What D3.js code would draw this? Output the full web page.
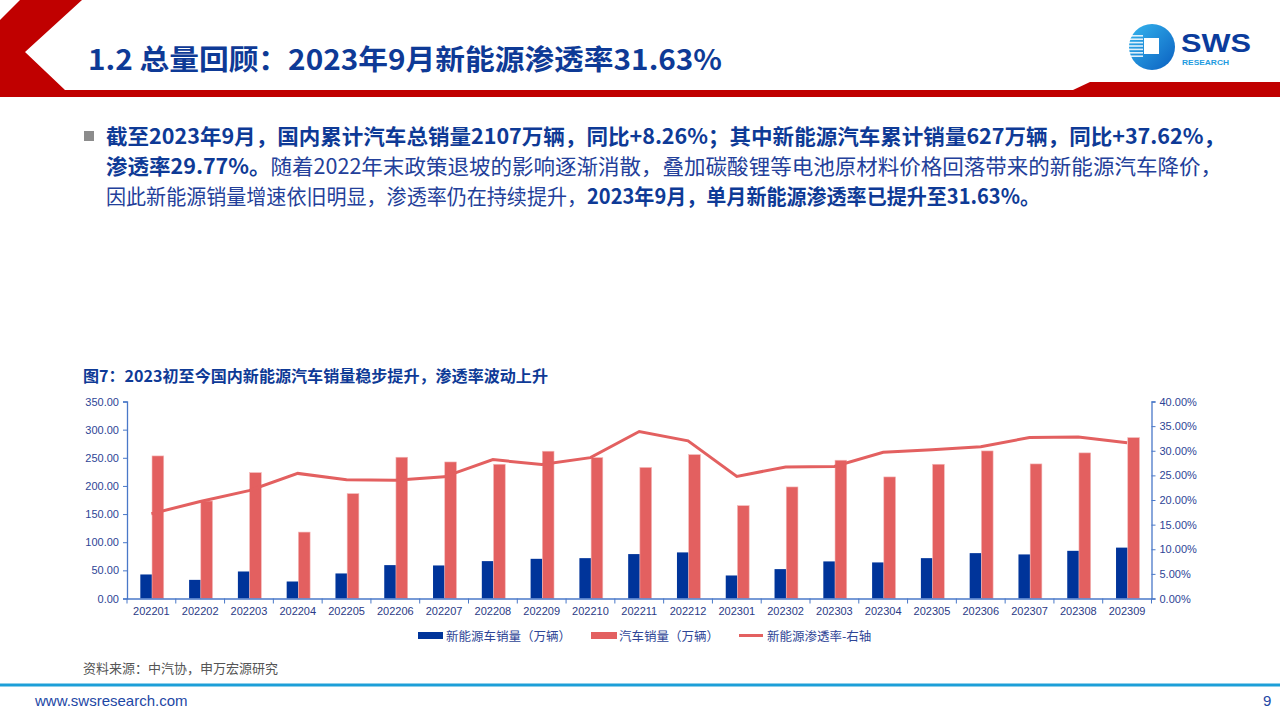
<!DOCTYPE html>
<html><head><meta charset="utf-8">
<script src="https://cdn.jsdelivr.net/npm/d3@7"></script>
<style>
html,body{margin:0;padding:0;background:#fff;}
svg{display:block;font-family:"Noto Sans CJK SC","Liberation Sans",sans-serif;}
</style></head>
<body><svg id="c" width="1280" height="720"></svg>
<script>
const categories = ["202201","202202","202203","202204","202205","202206","202207","202208","202209","202210","202211","202212","202301","202302","202303","202304","202305","202306","202307","202308","202309"];
const nevSales = [42.7,33.1,48.0,30.2,44.5,59.3,58.7,66.4,70.5,71.7,78.9,81.9,40.9,52.2,65.9,64.1,71.7,80.6,78.3,84.7,90.4];
const totalSales = [253.3,173.2,223.6,118.0,186.3,251.0,242.6,238.5,261.7,250.3,232.8,255.6,164.9,198.2,245.7,216.0,238.5,262.2,239.1,258.7,285.8];
const penetration = [17.2,19.7,21.9,25.4,24.1,24.0,24.7,28.2,27.2,28.6,33.9,32.0,24.8,26.7,26.8,29.7,30.2,30.8,32.7,32.8,31.63];
const leftTicks = [0,50,100,150,200,250,300,350];
const rightTicks = [0,5,10,15,20,25,30,35,40];
const seriesNames = ["新能源车销量（万辆）","汽车销量（万辆）","新能源渗透率-右轴"];

const svg = d3.select("#c");
const BLUE_T = "#0E3A96";
const C_BLUE = "#00349A", C_RED = "#E36060", AXIS = "#4A78C8", LBL = "#2E4596";

// header shapes
svg.append("polygon").attr("points","0,20 20,0 82,0 25,52 65,90 1073,90 1090,82 1280,82 1280,97 0,97").attr("fill","#C00000");
svg.append("text").attr("x",88).attr("y",70).attr("font-size",28).attr("font-weight","bold").attr("fill",BLUE_T)
  .attr("textLength",634).attr("lengthAdjust","spacingAndGlyphs")
  .text("1.2 总量回顾：2023年9月新能源渗透率31.63%");

// logo
const defs = svg.append("defs");
const g1 = defs.append("linearGradient").attr("id","lg").attr("x1","0").attr("y1","0").attr("x2","1").attr("y2","1");
g1.append("stop").attr("offset","0").attr("stop-color","#35B6EE");
g1.append("stop").attr("offset","1").attr("stop-color","#0A5FC0");
svg.append("circle").attr("cx",1152).attr("cy",47).attr("r",23).attr("fill","url(#lg)");
for(let i=0;i<7;i++){ svg.append("rect").attr("x",1129).attr("y",35+i*3.4).attr("width",14).attr("height",1.6).attr("fill","#fff").attr("opacity",0.85); }
svg.append("rect").attr("x",1144).attr("y",38).attr("width",15).attr("height",16).attr("fill","#fff");
svg.append("text").attr("x",1181).attr("y",52).attr("font-size",26).attr("font-weight","900").attr("fill","#0B3C9C")
  .attr("font-family","Liberation Sans, Arial").attr("textLength",70).attr("lengthAdjust","spacingAndGlyphs").text("SWS");
svg.append("text").attr("x",1182).attr("y",65).attr("font-size",7).attr("font-weight","bold").attr("fill","#1E9BE0")
  .attr("font-family","Liberation Sans, Arial").attr("textLength",47).attr("lengthAdjust","spacingAndGlyphs").text("RESEARCH");

// paragraph
svg.append("rect").attr("x",84).attr("y",131).attr("width",10).attr("height",10).attr("fill","#8C8C8C");
const lines = [
  {w:1119, parts:[["截至2023年9月，国内累计汽车总销量2107万辆，同比+8.26%；其中新能源汽车累计销量627万辆，同比+37.62%，",true]]},
  {w:1116, parts:[["渗透率29.77%。",true],["随着2022年末政策退坡的影响逐渐消散，叠加碳酸锂等电池原材料价格回落带来的新能源汽车降价，",false]]},
  {w:934, parts:[["因此新能源销量增速依旧明显，渗透率仍在持续提升，",false],["2023年9月，单月新能源渗透率已提升至31.63%。",true]]}
];
lines.forEach((l,i)=>{
  const t = svg.append("text").attr("x",106).attr("y",144+i*30).attr("font-size",21).attr("fill",BLUE_T)
    .attr("textLength",l.w).attr("lengthAdjust","spacingAndGlyphs");
  l.parts.forEach(p=>t.append("tspan").attr("font-weight",p[1]?"bold":"normal").attr("fill",p[1]?BLUE_T:"#23409A").text(p[0]));
});

// chart title
svg.append("text").attr("x",83).attr("y",382).attr("font-size",15.5).attr("font-weight","bold").attr("fill",BLUE_T)
  .attr("textLength",465).attr("lengthAdjust","spacingAndGlyphs")
  .text("图7：2023初至今国内新能源汽车销量稳步提升，渗透率波动上升");

// chart
const X0 = 127, X1 = 1151.5, YT = 401.5, YB = 598.5;
const x = d3.scaleBand().domain(categories).range([X0,X1]).paddingInner(0).paddingOuter(0);
const yL = d3.scaleLinear().domain([0,350]).range([YB,YT]);
const yR = d3.scaleLinear().domain([0,40]).range([YB,YT]);
const bw = x.bandwidth();

const gb = svg.append("g");
gb.selectAll(".nb").data(categories).enter().append("rect")
  .attr("x",(d)=>x(d)+bw*0.273).attr("width",bw*0.24)
  .attr("y",(d,i)=>yL(nevSales[i])).attr("height",(d,i)=>YB-yL(nevSales[i]))
  .attr("fill",C_BLUE);
gb.selectAll(".tb").data(categories).enter().append("rect")
  .attr("x",(d)=>x(d)+bw*0.513).attr("width",bw*0.24)
  .attr("y",(d,i)=>yL(totalSales[i])).attr("height",(d,i)=>YB-yL(totalSales[i]))
  .attr("fill",C_RED).attr("stroke","#F4B8B8").attr("stroke-width",0.6);

const line = d3.line().x((d,i)=>x(categories[i])+bw/2).y(d=>yR(d));
svg.append("path").datum(penetration).attr("d",line).attr("fill","none").attr("stroke",C_RED).attr("stroke-width",3);

// axes
const axL = svg.append("g").attr("transform",`translate(${X0},0)`)
  .call(d3.axisLeft(yL).tickValues(leftTicks).tickFormat(d3.format(".2f")).tickSizeOuter(0).tickSize(4));
const axR = svg.append("g").attr("transform",`translate(${X1},0)`)
  .call(d3.axisRight(yR).tickValues(rightTicks).tickFormat(d=>d.toFixed(2)+"%").tickSizeOuter(0).tickSize(4));
const axB = svg.append("g").attr("transform",`translate(0,${YB})`)
  .call(d3.axisBottom(x).tickSize(0).tickSizeOuter(0));
// boundary ticks
svg.append("g").selectAll("line").data(d3.range(categories.length+1)).enter().append("line")
  .attr("x1",i=>X0+i*bw).attr("x2",i=>X0+i*bw).attr("y1",YB).attr("y2",YB+5)
  .attr("stroke",AXIS).attr("stroke-width",1);
[axL,axR,axB].forEach(a=>{
  a.select(".domain").attr("stroke",AXIS).attr("stroke-width",1.3);
  a.selectAll(".tick line").attr("stroke",AXIS);
  a.selectAll("text").attr("fill",LBL).attr("font-size",11).attr("font-family","Liberation Sans, Arial");
});
axL.selectAll("text").attr("dx",-1);
axR.selectAll("text").attr("dx",1);
axB.selectAll("text").attr("dy","1.2em").attr("fill","#2B3A86");

// legend
const lg = svg.append("g").attr("font-size",12.5).attr("fill",LBL);
lg.append("rect").attr("x",418).attr("y",632).attr("width",25).attr("height",7).attr("fill",C_BLUE);
lg.append("text").attr("x",446).attr("y",641).text(seriesNames[0]);
lg.append("rect").attr("x",591).attr("y",632).attr("width",26).attr("height",7).attr("fill",C_RED);
lg.append("text").attr("x",619).attr("y",641).text(seriesNames[1]);
lg.append("line").attr("x1",739).attr("x2",763).attr("y1",635.5).attr("y2",635.5).attr("stroke",C_RED).attr("stroke-width",3);
lg.append("text").attr("x",767).attr("y",641).text(seriesNames[2]);

// source
svg.append("text").attr("x",83).attr("y",673).attr("font-size",13).attr("fill","#555").text("资料来源：中汽协，申万宏源研究");

// footer
svg.append("rect").attr("x",0).attr("y",683.5).attr("width",1280).attr("height",3).attr("fill","#1C9FD8");
svg.append("text").attr("x",35).attr("y",706).attr("font-size",15).attr("fill","#1D47A5").attr("font-family","Liberation Sans, Arial").text("www.swsresearch.com");
svg.append("text").attr("x",1263).attr("y",706).attr("font-size",15).attr("fill","#1D47A5").attr("font-family","Liberation Sans, Arial").text("9");
</script></body></html>
